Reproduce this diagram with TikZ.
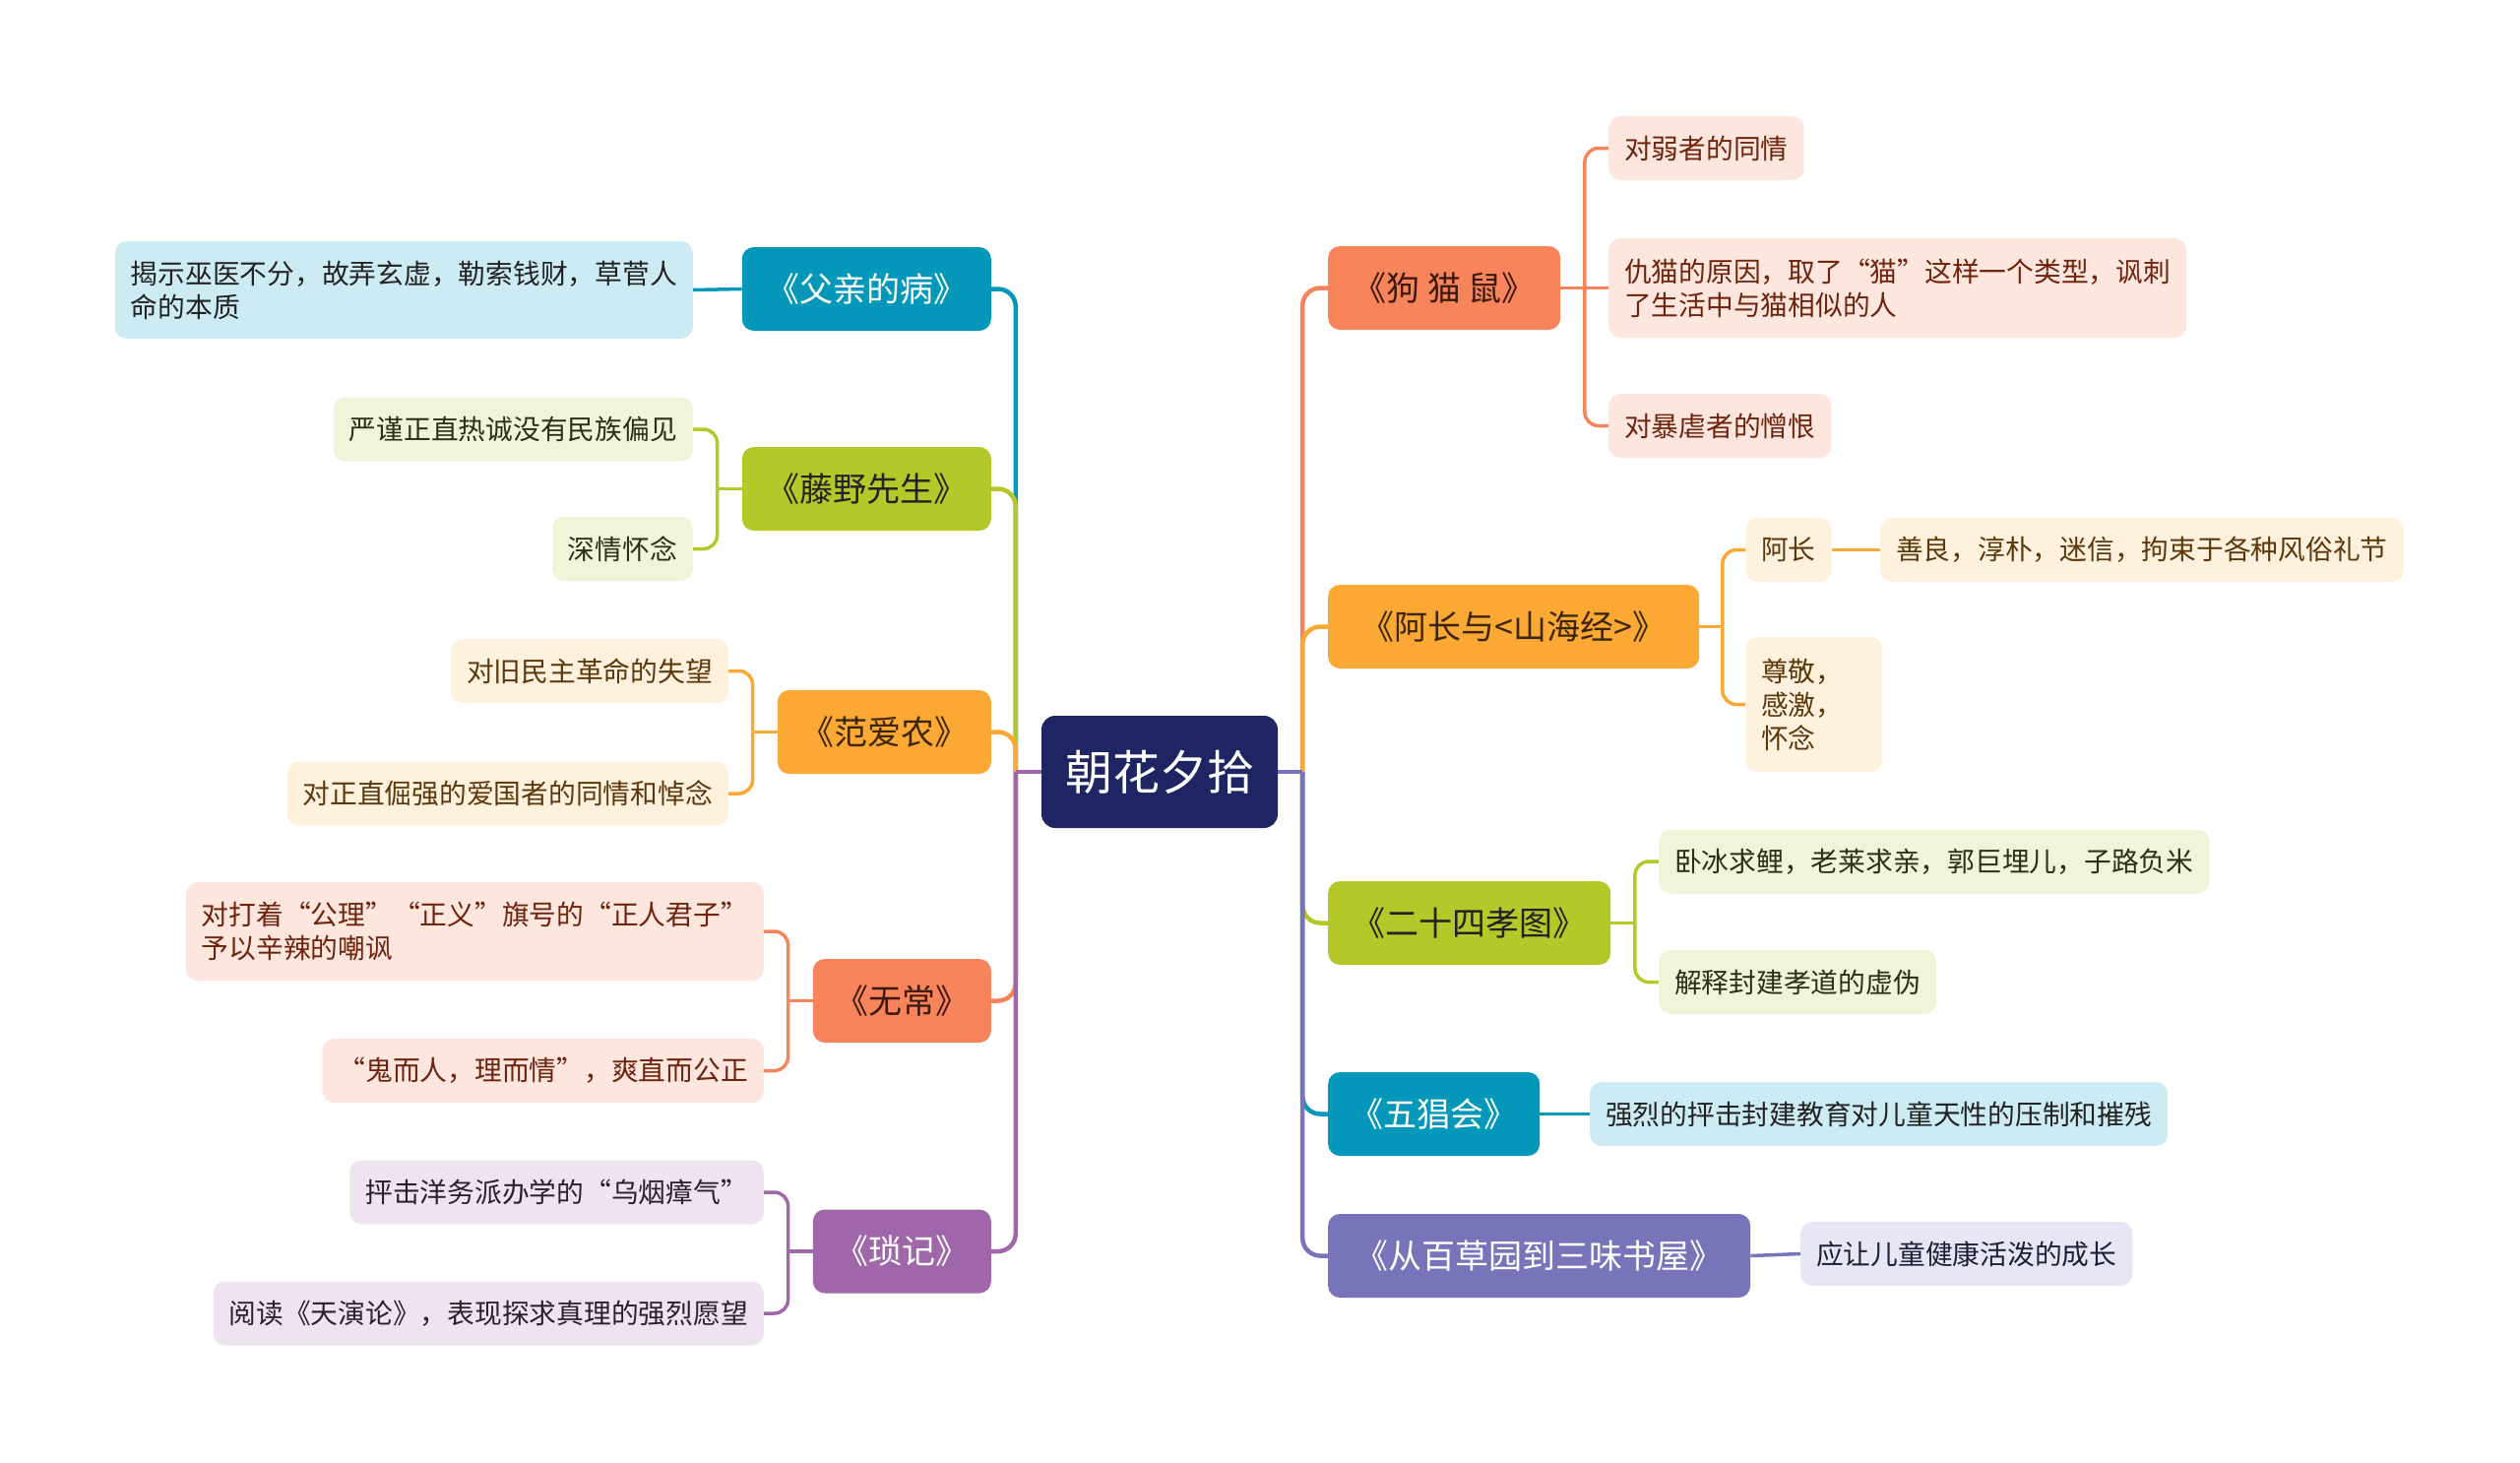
\documentclass[tikz,border=0pt]{standalone}
\usepackage{fontspec}
\setmainfont{Noto Sans CJK SC}
\pgfdeclarelayer{bg}
\pgfsetlayers{bg,main}
\definecolor{cRoot}{RGB}{31,37,99}
\definecolor{cTeal}{RGB}{3,152,186}
\definecolor{cLime}{RGB}{181,200,42}
\definecolor{cOrange}{RGB}{251,168,52}
\definecolor{cSalmon}{RGB}{247,132,90}
\definecolor{cPurple}{RGB}{160,102,170}
\definecolor{cPeri}{RGB}{120,116,185}
\definecolor{lTeal}{RGB}{205,235,243}
\definecolor{lLime}{RGB}{240,244,217}
\definecolor{lOrange}{RGB}{254,241,222}
\definecolor{lSalmon}{RGB}{253,230,222}
\definecolor{lPurple}{RGB}{238,228,240}
\definecolor{lPeri}{RGB}{231,230,244}
\definecolor{tDark}{RGB}{34,34,34}
\definecolor{tLime}{RGB}{45,45,25}
\definecolor{tOrange}{RGB}{92,55,10}
\definecolor{tSalmon}{RGB}{110,35,12}
\definecolor{tPurple}{RGB}{45,30,45}
\definecolor{tPeri}{RGB}{30,30,55}
\definecolor{mOrange}{RGB}{60,38,8}
\definecolor{mSalmon}{RGB}{60,25,12}
\begin{document}
\begin{tikzpicture}[x=1pt,y=-1pt,
  rootbox/.style={fill=cRoot, text=white, rounded corners=14pt, inner sep=0pt,
    minimum width=240pt, minimum height=114pt, font=\fontsize{48}{56}\selectfont},
  mainbox/.style={rounded corners=12pt, inner xsep=10pt, inner ysep=0pt,
    minimum height=85pt, font=\fontsize{34}{40}\selectfont, align=center},
  leafbox/.style={rounded corners=12pt, inner xsep=16pt, inner ysep=0pt,
    minimum height=65pt, font=\fontsize{27.75}{34}\selectfont, align=left},
  mainline/.style={line width=4.5pt, rounded corners=18pt},
  leafline/.style={line width=3.5pt, rounded corners=14pt},
]
\useasboundingbox (0,0) rectangle (2560,1486);

% root
\node[rootbox] (root) at (1178,784) {朝花夕拾};

% left main branches
\node[mainbox, fill=cTeal, text=white, minimum width=253pt, anchor=east] (fq) at (1007,293.5) {《父亲的病》};
\node[mainbox, fill=cLime, text=tDark, minimum width=253pt, anchor=east] (ty) at (1007,496.5) {《藤野先生》};
\node[mainbox, fill=cOrange, text=mOrange, minimum width=217pt, anchor=east] (fa) at (1007,743.5) {《范爱农》};
\node[mainbox, fill=cSalmon, text=mSalmon, minimum width=181pt, anchor=east] (wc) at (1007,1016.5) {《无常》};
\node[mainbox, fill=cPurple, text=white, minimum width=181pt, anchor=east] (sj) at (1007,1271) {《琐记》};

% right main branches
\node[mainbox, fill=cSalmon, text=mSalmon, minimum width=236pt, anchor=west] (gm) at (1349,292.5) {《狗 猫 鼠》};
\node[mainbox, fill=cOrange, text=mOrange, minimum width=377pt, anchor=west] (az) at (1349,636.5) {《阿长与<山海经>》};
\node[mainbox, fill=cLime, text=tDark, minimum width=287pt, anchor=west] (es) at (1349,937.5) {《二十四孝图》};
\node[mainbox, fill=cTeal, text=white, minimum width=215pt, anchor=west] (wch) at (1349,1131.5) {《五猖会》};
\node[mainbox, fill=cPeri, text=white, minimum width=429pt, anchor=west] (bc) at (1349,1275.5) {《从百草园到三味书屋》};

% left leaves
\node[leafbox, fill=lTeal, text=tDark, minimum height=99pt, anchor=east] (l1) at (704,294.5) {揭示巫医不分，故弄玄虚，勒索钱财，草菅人\\命的本质};
\node[leafbox, fill=lLime, text=tLime, anchor=east] (l2) at (704,436) {严谨正直热诚没有民族偏见};
\node[leafbox, fill=lLime, text=tLime, anchor=east] (l3) at (704,557.5) {深情怀念};
\node[leafbox, fill=lOrange, text=tOrange, anchor=east] (l4) at (740,681.5) {对旧民主革命的失望};
\node[leafbox, fill=lOrange, text=tOrange, anchor=east] (l5) at (740,806) {对正直倔强的爱国者的同情和悼念};
\node[leafbox, fill=lSalmon, text=tSalmon, minimum height=100pt, anchor=east] (l6) at (776,946) {对打着“公理”“正义”旗号的“正人君子”\\予以辛辣的嘲讽};
\node[leafbox, fill=lSalmon, text=tSalmon, anchor=east] (l7) at (776,1087.5) {“鬼而人，理而情”，爽直而公正};
\node[leafbox, fill=lPurple, text=tPurple, anchor=east] (l8) at (776,1211) {抨击洋务派办学的“乌烟瘴气”};
\node[leafbox, fill=lPurple, text=tPurple, anchor=east] (l9) at (776,1334) {阅读《天演论》，表现探求真理的强烈愿望};

% right leaves
\node[leafbox, fill=lSalmon, text=tSalmon, anchor=west] (r1) at (1634,150.5) {对弱者的同情};
\node[leafbox, fill=lSalmon, text=tSalmon, minimum height=101pt, anchor=west] (r2) at (1634,292.5) {仇猫的原因，取了“猫”这样一个类型，讽刺\\了生活中与猫相似的人};
\node[leafbox, fill=lSalmon, text=tSalmon, anchor=west] (r3) at (1634,432.5) {对暴虐者的憎恨};
\node[leafbox, fill=lOrange, text=tOrange, anchor=west] (r4) at (1773,558.5) {阿长};
\node[leafbox, fill=lOrange, text=tOrange, anchor=west] (r5) at (1910,558.5) {善良，淳朴，迷信，拘束于各种风俗礼节};
\node[leafbox, fill=lOrange, text=tOrange, minimum height=137pt, text width=107pt, anchor=west] (r6) at (1773,715.5) {尊敬，\\感激，\\怀念};
\node[leafbox, fill=lLime, text=tLime, anchor=west] (r7) at (1685,875) {卧冰求鲤，老莱求亲，郭巨埋儿，子路负米};
\node[leafbox, fill=lLime, text=tLime, anchor=west] (r8) at (1685,997.5) {解释封建孝道的虚伪};
\node[leafbox, fill=lTeal, text=tDark, anchor=west] (r9) at (1615,1131.5) {强烈的抨击封建教育对儿童天性的压制和摧残};
\node[leafbox, fill=lPeri, text=tPeri, anchor=west] (r10) at (1829,1273.5) {应让儿童健康活泼的成长};

% junction coordinates
\coordinate (Lt) at ([xshift=-26pt]root.west);
\coordinate (Rt) at ([xshift=25pt]root.east);
\coordinate (tyf) at ([xshift=-25pt]ty.west);
\coordinate (faf) at ([xshift=-25pt]fa.west);
\coordinate (wcf) at ([xshift=-25pt]wc.west);
\coordinate (sjf) at ([xshift=-25pt]sj.west);
\coordinate (gmf) at ([xshift=24.5pt]gm.east);
\coordinate (azf) at ([xshift=23.5pt]az.east);
\coordinate (esf) at ([xshift=24.5pt]es.east);

\begin{pgfonlayer}{bg}
% main connectors, left
\draw[mainline, cTeal] (root.west) -- (Lt); \draw[mainline, cTeal] (Lt) |- (fq.east);
\draw[mainline, cLime] (root.west) -- (Lt); \draw[mainline, cLime] (Lt) |- (ty.east);
\draw[mainline, cOrange] (root.west) -- (Lt); \draw[mainline, cOrange] (Lt) |- (fa.east);
\draw[mainline, cSalmon] (root.west) -- (Lt); \draw[mainline, cSalmon] (Lt) |- (wc.east);
\draw[mainline, cPurple] (root.west) -- (Lt); \draw[mainline, cPurple] (Lt) |- (sj.east);
% main connectors, right
\draw[mainline, cSalmon] (root.east) -- (Rt); \draw[mainline, cSalmon] (Rt) |- (gm.west);
\draw[mainline, cOrange] (root.east) -- (Rt); \draw[mainline, cOrange] (Rt) |- (az.west);
\draw[mainline, cLime] (root.east) -- (Rt); \draw[mainline, cLime] (Rt) |- (es.west);
\draw[mainline, cTeal] (root.east) -- (Rt); \draw[mainline, cTeal] (Rt) |- (wch.west);
\draw[mainline, cPeri] (root.east) -- (Rt); \draw[mainline, cPeri] (Rt) |- (bc.west);

% leaf connectors, left
\draw[leafline, cTeal] (fq.west) -- (l1.east);
\draw[leafline, cLime] (ty.west) -- (tyf);
\draw[leafline, cLime] (tyf) |- (l2.east);
\draw[leafline, cLime] (tyf) |- (l3.east);
\draw[leafline, cOrange] (fa.west) -- (faf);
\draw[leafline, cOrange] (faf) |- (l4.east);
\draw[leafline, cOrange] (faf) |- (l5.east);
\draw[leafline, cSalmon] (wc.west) -- (wcf);
\draw[leafline, cSalmon] (wcf) |- (l6.east);
\draw[leafline, cSalmon] (wcf) |- (l7.east);
\draw[leafline, cPurple] (sj.west) -- (sjf);
\draw[leafline, cPurple] (sjf) |- (l8.east);
\draw[leafline, cPurple] (sjf) |- (l9.east);
% leaf connectors, right
\draw[leafline, cSalmon] (gm.east) -- (gmf);
\draw[leafline, cSalmon] (gmf) |- (r1.west);
\draw[leafline, cSalmon] (gmf) -- (r2.west);
\draw[leafline, cSalmon] (gmf) |- (r3.west);
\draw[leafline, cOrange] (az.east) -- (azf);
\draw[leafline, cOrange] (azf) |- (r4.west);
\draw[leafline, cOrange] (azf) |- (r6.west);
\draw[leafline, cOrange] (r4.east) -- (r5.west);
\draw[leafline, cLime] (es.east) -- (esf);
\draw[leafline, cLime] (esf) |- (r7.west);
\draw[leafline, cLime] (esf) |- (r8.west);
\draw[leafline, cTeal] (wch.east) -- (r9.west);
\draw[leafline, cPeri] (bc.east) -- (r10.west);
\end{pgfonlayer}
\end{tikzpicture}
\end{document}
